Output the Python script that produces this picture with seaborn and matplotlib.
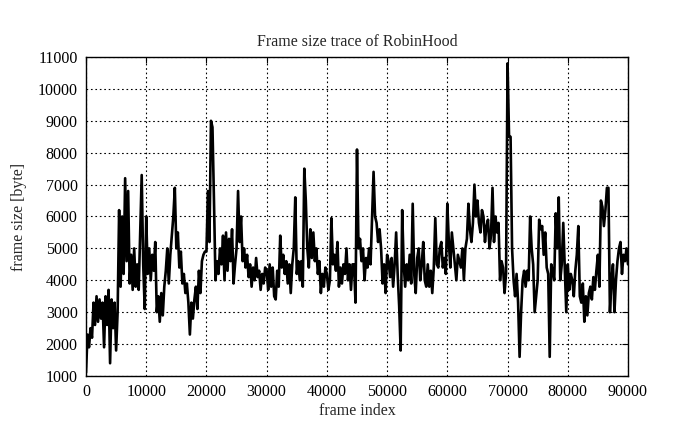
import numpy as np
import pandas as pd
import matplotlib
matplotlib.use("Agg")
import matplotlib.pyplot as plt
import seaborn as sns

# frame sizes [byte], one list per 10000 frames, sampled every 250 frames
seg_00k = [1100, 2300, 1900, 2500, 2200, 3300, 2600, 3500, 2700, 3400,
           2800, 3300, 1900, 3500, 2600, 3700, 1400, 3400, 2500, 3300,
           1800, 3000, 6200, 3800, 6000, 4200, 7200, 4600, 6800, 3900,
           4800, 3700, 5000, 3800, 4500, 3700, 5500, 7300, 4500, 3100]
seg_10k = [6000, 4200, 5000, 4000, 4800, 4300, 5200, 3000, 3500, 2700,
           3600, 2900, 3800, 4300, 5000, 3900, 4800, 5400, 6000, 6900,
           5000, 5500, 4400, 4900, 3900, 4200, 3600, 3900, 3300, 2300,
           3300, 2800, 3400, 3800, 3100, 4300, 3600, 4600, 4800, 4900]
seg_20k = [4900, 6800, 5200, 9000, 8800, 6500, 4000, 4600, 4200, 5000,
           4500, 5400, 4000, 5500, 4300, 5300, 4600, 5600, 3900, 4500,
           5000, 6800, 5200, 6000, 4600, 5000, 4400, 4800, 4100, 4500,
           3800, 4400, 4000, 4700, 4100, 4300, 3700, 4200, 3900, 4400]
seg_30k = [4300, 3700, 4500, 3800, 4400, 3500, 3400, 4300, 3800, 5400,
           4400, 4800, 4200, 4600, 3900, 4500, 3600, 4500, 5000, 6600,
           4200, 4600, 4000, 4600, 3800, 7500, 6500, 5000, 4400, 5600,
           4700, 5500, 4600, 5000, 4200, 4600, 3600, 4200, 3800, 4400]
seg_40k = [4200, 3700, 4000, 5950, 4500, 4800, 4300, 5200, 3800, 4400,
           3900, 4500, 4200, 5000, 4000, 4500, 3700, 4500, 4500, 3300,
           8100, 5000, 5300, 4600, 5000, 4000, 4700, 4400, 5000, 4500,
           6000, 7400, 6000, 5800, 5200, 5600, 5000, 3900, 4500, 3600]
seg_50k = [4800, 4600, 4100, 4700, 3800, 4500, 5500, 4200, 3200, 1800,
           6200, 4500, 3800, 4500, 4000, 4800, 3900, 6400, 4200, 3600,
           4700, 5000, 4000, 4500, 5200, 4000, 3800, 4500, 3800, 4300,
           3600, 4400, 5950, 4500, 4400, 5000, 5200, 4400, 4700, 4200]
seg_60k = [6400, 5200, 4400, 5500, 5000, 4500, 4000, 4800, 4600, 4400,
           5000, 4000, 5000, 5300, 6400, 5600, 5200, 5800, 7000, 6000,
           6500, 5800, 5500, 6200, 6000, 5200, 5700, 5900, 5000, 5400,
           6900, 5200, 6000, 5500, 5800, 4000, 4600, 4400, 3600, 4200]
seg_70k = [10800, 8500, 8500, 5000, 4000, 3500, 4200, 3300, 1600, 3000,
           4000, 4300, 3800, 4300, 4000, 6000, 5000, 4500, 3000, 3500,
           4000, 5900, 5600, 5700, 4800, 5500, 4400, 4200, 1600, 4500,
           4300, 4000, 6100, 5000, 6600, 4000, 4500, 5800, 4400, 3000]
seg_80k = [4500, 3700, 4200, 4000, 3500, 4300, 4800, 5700, 3500, 3300,
           3900, 2700, 3500, 2900, 3600, 3800, 3400, 4100, 3700, 4300,
           4800, 3800, 6500, 6300, 5700, 6200, 6900, 6900, 3000, 4000,
           4500, 3000, 4000, 4600, 5000, 5200, 4200, 4800, 4600, 5000, 4500]

segments = [seg_00k, seg_10k, seg_20k, seg_30k, seg_40k,
            seg_50k, seg_60k, seg_70k, seg_80k]

frames = []
sizes = []
for i, seg in enumerate(segments):
    frames.extend(np.arange(len(seg)) * 250 + i * 10000)
    sizes.extend(seg)
df = pd.DataFrame({"frame index": frames, "frame size": sizes})

sns.set_style("white")
plt.rcParams["font.family"] = ["Liberation Serif", "DejaVu Serif"]

fig = plt.figure(figsize=(6.95, 4.29), dpi=100)
ax = fig.add_axes([86 / 695, 53 / 429, 542 / 695, 319 / 429])

sns.lineplot(data=df, x="frame index", y="frame size", color="black",
             linewidth=1.9, ax=ax)

ax.set_xlim(0, 90000)
ax.set_ylim(1000, 11000)
ax.set_xticks(np.arange(0, 90001, 10000))
ax.set_yticks(np.arange(1000, 11001, 1000))
ax.grid(True, color="black", linestyle=(0, (1.5, 2.5)), linewidth=0.8)
ax.tick_params(direction="in", length=4, width=0.8, top=True, right=True,
               labelsize=11.5, colors="black", pad=6)
for sp in ax.spines.values():
    sp.set_color("black")
    sp.set_linewidth(1.0)

ax.set_title("Frame size trace of RobinHood", fontsize=11.5, pad=8)
ax.set_xlabel("frame index", fontsize=11.5, labelpad=2)
ax.set_ylabel("frame size [byte]", fontsize=11.5, labelpad=8)

fig.savefig("out.png", dpi=100)
